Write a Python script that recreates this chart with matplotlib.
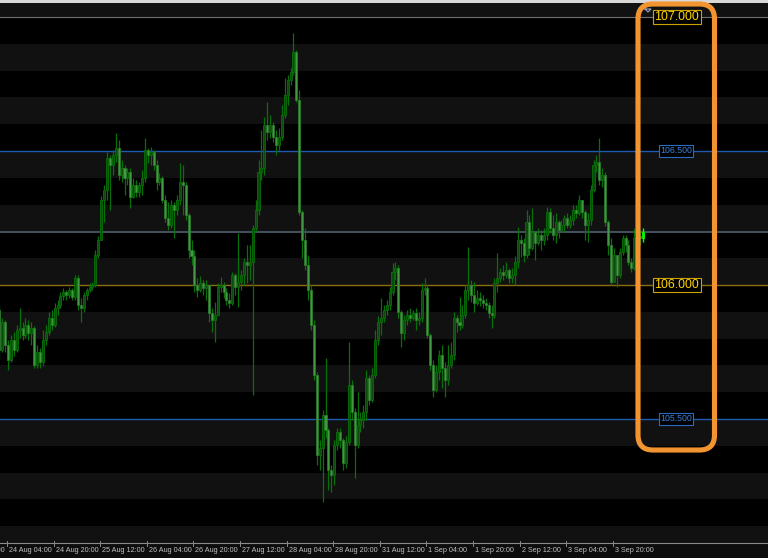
import numpy as np
import matplotlib
matplotlib.use("Agg")
import matplotlib.pyplot as plt
from matplotlib.patches import FancyBboxPatch

# hourly USDJPY-style candles, 24 Aug 01:00 .. 4 Sep 06:00 (bar index 0..221)
first_open = 105.907
closes = [
    105.757, 105.862, 105.776, 105.720, 105.795, 105.757, 105.832, 105.840, 105.813, 105.851,
    105.821, 105.840, 105.701, 105.750, 105.713, 105.795, 105.825, 105.877, 105.851, 105.914,
    105.925, 105.959, 105.974, 105.963, 105.981, 105.955, 106.026, 105.925, 105.914, 105.963,
    105.981, 105.993, 106.000, 106.112, 106.168, 106.317, 106.355, 106.474, 106.448, 106.485,
    106.511, 106.410, 106.437, 106.399, 106.422, 106.328, 106.373, 106.347, 106.373, 106.399,
    106.504, 106.485, 106.496, 106.448, 106.384, 106.399, 106.317, 106.250, 106.224, 106.298,
    106.280, 106.317, 106.384, 106.373, 106.261, 106.131, 106.108, 106.000, 105.981, 106.007,
    105.989, 106.000, 105.896, 105.869, 105.888, 105.993, 106.000, 105.974, 105.944, 105.933,
    106.037, 105.993, 106.011, 106.037, 106.086, 106.075, 106.086, 106.213, 106.280, 106.422,
    106.437, 106.597, 106.571, 106.597, 106.552, 106.522, 106.552, 106.634, 106.709, 106.765,
    106.795, 106.869, 106.690, 106.272, 106.168, 106.075, 105.981, 105.851, 105.664, 105.366,
    105.392, 105.515, 105.459, 105.310, 105.291, 105.403, 105.452, 105.422, 105.336, 105.414,
    105.627, 105.526, 105.403, 105.478, 105.496, 105.526, 105.653, 105.571, 105.664, 105.795,
    105.862, 105.877, 105.907, 105.925, 105.974, 106.048, 106.063, 105.899, 105.821, 105.869,
    105.888, 105.877, 105.896, 105.869, 105.877, 105.981, 105.989, 105.813, 105.701, 105.608,
    105.675, 105.739, 105.690, 105.646, 105.701, 105.739, 105.877, 105.862, 105.851, 105.888,
    105.981, 106.000, 105.963, 105.933, 105.952, 105.944, 105.933, 105.925, 105.896, 105.888,
    106.007, 106.026, 106.048, 106.037, 106.056, 106.026, 106.037, 106.086, 106.168, 106.157,
    106.112, 106.235, 106.138, 106.198, 106.157, 106.187, 106.168, 106.187, 106.272, 106.213,
    106.187, 106.235, 106.205, 106.224, 106.250, 106.224, 106.243, 106.280, 106.269, 106.317,
    106.272, 106.224, 106.243, 106.355, 106.448, 106.459, 106.392, 106.410, 106.235, 106.149,
    106.011, 106.112, 106.037, 106.123, 106.175, 106.149, 106.086, 106.063, 106.175, 106.183,
    106.175, 106.198,
]
highs = [
    105.925, 105.877, 105.869, 105.795, 105.813, 105.825, 105.851, 105.914, 105.862, 105.877,
    105.869, 105.862, 105.847, 105.776, 105.765, 105.832, 105.851, 105.899, 105.907, 105.933,
    105.944, 105.974, 105.989, 105.981, 105.993, 105.989, 106.037, 106.037, 105.952, 105.974,
    105.989, 106.007, 106.011, 106.131, 106.183, 106.332, 106.373, 106.496, 106.485, 106.504,
    106.567, 106.541, 106.466, 106.448, 106.437, 106.437, 106.399, 106.392, 106.384, 106.429,
    106.549, 106.511, 106.515, 106.504, 106.466, 106.418, 106.407, 106.336, 106.310, 106.317,
    106.310, 106.336, 106.455, 106.448, 106.384, 106.269, 106.168, 106.131, 106.026, 106.034,
    106.019, 106.019, 106.000, 105.914, 105.937, 106.007, 106.030, 106.011, 105.989, 105.970,
    106.048, 106.045, 106.194, 106.056, 106.101, 106.149, 106.149, 106.224, 106.317, 106.466,
    106.578, 106.627, 106.683, 106.634, 106.608, 106.578, 106.586, 106.672, 106.772, 106.784,
    106.810, 106.940, 106.877, 106.728, 106.280, 106.213, 106.112, 106.000, 105.869, 105.675,
    105.422, 105.534, 105.728, 105.467, 105.328, 105.422, 105.467, 105.467, 105.429, 105.437,
    105.787, 105.646, 105.541, 105.601, 105.526, 105.552, 105.683, 105.664, 105.690, 105.832,
    105.884, 105.952, 105.925, 105.944, 105.993, 106.082, 106.086, 106.075, 105.907, 105.888,
    105.907, 105.914, 105.907, 105.914, 105.899, 106.007, 106.026, 106.000, 105.821, 105.720,
    105.701, 105.757, 105.776, 105.713, 105.776, 105.787, 105.899, 105.888, 105.955, 105.925,
    106.000, 106.142, 106.019, 106.011, 105.981, 105.974, 105.963, 105.952, 105.937, 105.925,
    106.026, 106.119, 106.063, 106.075, 106.086, 106.063, 106.063, 106.108, 106.216, 106.187,
    106.175, 106.280, 106.261, 106.287, 106.198, 106.213, 106.205, 106.213, 106.291, 106.287,
    106.261, 106.269, 106.243, 106.243, 106.261, 106.269, 106.261, 106.298, 106.298, 106.336,
    106.317, 106.280, 106.269, 106.373, 106.466, 106.485, 106.549, 106.437, 106.422, 106.243,
    106.175, 106.138, 106.112, 106.138, 106.187, 106.187, 106.168, 106.101, 106.213, 106.205,
    106.205, 106.213,
]
lows = [
    105.728, 105.750, 105.750, 105.683, 105.713, 105.735, 105.750, 105.802, 105.795, 105.802,
    105.795, 105.776, 105.690, 105.690, 105.690, 105.698, 105.776, 105.813, 105.832, 105.843,
    105.888, 105.914, 105.944, 105.944, 105.952, 105.944, 105.944, 105.907, 105.862, 105.899,
    105.944, 105.974, 105.981, 105.993, 106.101, 106.168, 106.235, 106.317, 106.280, 106.410,
    106.459, 106.392, 106.384, 106.336, 106.373, 106.287, 106.325, 106.328, 106.328, 106.336,
    106.384, 106.455, 106.448, 106.429, 106.355, 106.373, 106.306, 106.235, 106.205, 106.213,
    106.175, 106.261, 106.298, 106.261, 106.243, 106.101, 106.075, 105.974, 105.955, 105.974,
    105.963, 105.944, 105.862, 105.825, 105.787, 105.899, 105.974, 105.952, 105.925, 105.914,
    105.925, 105.963, 105.918, 105.981, 106.000, 106.007, 106.019, 105.590, 106.198, 106.261,
    106.392, 106.410, 106.541, 106.549, 106.534, 106.485, 106.504, 106.541, 106.623, 106.672,
    106.746, 106.784, 106.683, 106.261, 106.101, 106.056, 105.944, 105.832, 105.646, 105.328,
    105.310, 105.190, 105.429, 105.235, 105.228, 105.254, 105.384, 105.392, 105.310, 105.317,
    105.403, 105.496, 105.280, 105.392, 105.452, 105.467, 105.496, 105.552, 105.563, 105.653,
    105.776, 105.813, 105.862, 105.888, 105.907, 105.963, 106.019, 105.877, 105.769, 105.795,
    105.851, 105.862, 105.869, 105.832, 105.851, 105.862, 105.963, 105.802, 105.683, 105.582,
    105.601, 105.646, 105.616, 105.582, 105.627, 105.690, 105.720, 105.825, 105.832, 105.840,
    105.877, 105.944, 105.937, 105.899, 105.925, 105.922, 105.914, 105.907, 105.877, 105.840,
    105.877, 105.974, 106.011, 106.019, 106.026, 106.007, 106.007, 106.000, 106.063, 106.104,
    106.086, 106.101, 106.112, 106.131, 106.093, 106.149, 106.131, 106.149, 106.168, 106.194,
    106.168, 106.157, 106.175, 106.198, 106.198, 106.213, 106.213, 106.224, 106.250, 106.261,
    106.250, 106.168, 106.160, 106.224, 106.347, 106.422, 106.373, 106.366, 106.220, 106.112,
    106.000, 106.063, 105.993, 106.026, 106.112, 106.123, 106.075, 106.048, 106.056, 106.149,
    106.149, 106.160,
]

# x-axis labels every 16 bars (weekend gap after 28 Aug 23:00)
tick_bars = [-13, 3, 19, 35, 51, 67, 83, 99, 115, 131, 147, 163, 179, 195, 211]
tick_labels = ["23 Aug 12:00", "24 Aug 04:00", "24 Aug 20:00", "25 Aug 12:00",
               "26 Aug 04:00", "26 Aug 20:00", "27 Aug 12:00", "28 Aug 04:00",
               "28 Aug 20:00", "31 Aug 12:00", "1 Sep 04:00", "1 Sep 20:00",
               "2 Sep 12:00", "3 Sep 04:00", "3 Sep 20:00"]

# horizontal price lines
big_levels = [107.0, 106.0]
small_levels = [106.5, 105.5]
bid_price = 106.198

W, H = 768, 558
fig = plt.figure(figsize=(W / 100, H / 100), dpi=100, facecolor="black")
ax = fig.add_axes([0, 15 / H, 1, 543 / H])
ax.set_facecolor("black")
ax.set_xlim(0.254, 263.9)
ax.set_ylim(105.0373, 107.0634)
for s in ax.spines.values():
    s.set_visible(False)
ax.set_xticks([])
ax.set_yticks([])

# alternating background bands every 0.1
for top in np.arange(107.1, 104.9, -0.2):
    ax.axhspan(top - 0.1, top, color="#111111", lw=0, zorder=0)

n = len(closes)
idx = np.arange(n)
opens = np.array([first_open] + closes[:-1])
closes = np.array(closes)
highs = np.array(highs)
lows = np.array(lows)

up = closes >= opens
top_w = np.maximum(highs, np.maximum(opens, closes))
bot_w = np.minimum(lows, np.minimum(opens, closes))
ax.vlines(idx, bot_w, top_w, color="#087008", lw=0.9, zorder=3)
body_bot = np.minimum(opens, closes)
body_h = np.maximum(np.abs(closes - opens), 0.0015)
ax.bar(idx[up], body_h[up], bottom=body_bot[up], width=0.7,
       color="#0a4a0a", edgecolor="#087008", lw=0.6, zorder=4)
ax.bar(idx[~up], body_h[~up], bottom=body_bot[~up], width=0.7,
       color="#449844", edgecolor="#2a782a", lw=0.6, zorder=4)
# current bar highlighted
ax.vlines(idx[-1], bot_w[-1], top_w[-1], color="#00ff00", lw=1.0, zorder=5)
ax.bar(idx[-1], body_h[-1], bottom=body_bot[-1], width=0.7,
       color="#00ff00", edgecolor="#00ff00", lw=0.5, zorder=5)

# price lines
ax.axhline(107.0, color="#707070", lw=0.8, zorder=2)
ax.axhline(106.0, color="#8a6e10", lw=1.0, zorder=2)
for lv in small_levels:
    ax.axhline(lv, color="#1e5cb0", lw=1.0, zorder=2)
ax.axhline(bid_price, color="#4a5868", lw=1.3, zorder=2)

lab_x = 224.9
for lv in big_levels:
    ax.text(lab_x, lv, "%.3f" % lv, color="#ffd400", fontsize=8.9,
            family="Liberation Sans", ha="left", va="center", zorder=8,
            bbox=dict(boxstyle="square,pad=0.12", fc="black", ec="#c9a400", lw=0.8))
for lv in small_levels:
    ax.text(lab_x + 2.1, lv, "%.3f" % lv, color="#3a80d8", fontsize=6.3,
            family="Liberation Sans", ha="left", va="center", zorder=8,
            bbox=dict(boxstyle="square,pad=0.12", fc="black", ec="#2a6ac0", lw=0.8))

# overlay in pixel coordinates: axis line, ticks, labels, highlight box
ov = fig.add_axes([0, 0, 1, 1])
ov.set_xlim(0, W)
ov.set_ylim(H, 0)
ov.axis("off")
ov.patch.set_alpha(0)
ov.add_patch(plt.Rectangle((0, 543), W, H - 543, color="#0d0d0d", lw=0))
ov.plot([0, W], [543, 543], color="#8a8a8a", lw=0.8)
ov.add_patch(plt.Rectangle((0, 0), W, 3, color="#d8d8d8", lw=0))
ov.plot([645, 651, 648, 645], [9, 9, 12, 9], color="#a0a8c0", lw=0.8)

for b, lab in zip(tick_bars, tick_labels):
    px = ax.transData.transform((b, 106.0))[0]
    ov.plot([px - 1, px - 1], [541, 546], color="#8a8a8a", lw=0.7)
    ov.text(px + 1, 550, lab, color="#c0c0c0", fontsize=5.2,
            family="Liberation Sans", ha="left", va="center")

ov.add_patch(FancyBboxPatch((638, 4), 76.5, 446,
                            boxstyle="round,pad=0,rounding_size=15",
                            fc="none", ec="#f29430", lw=3.7, zorder=10))

fig.savefig("out.png", dpi=100, facecolor="black")
